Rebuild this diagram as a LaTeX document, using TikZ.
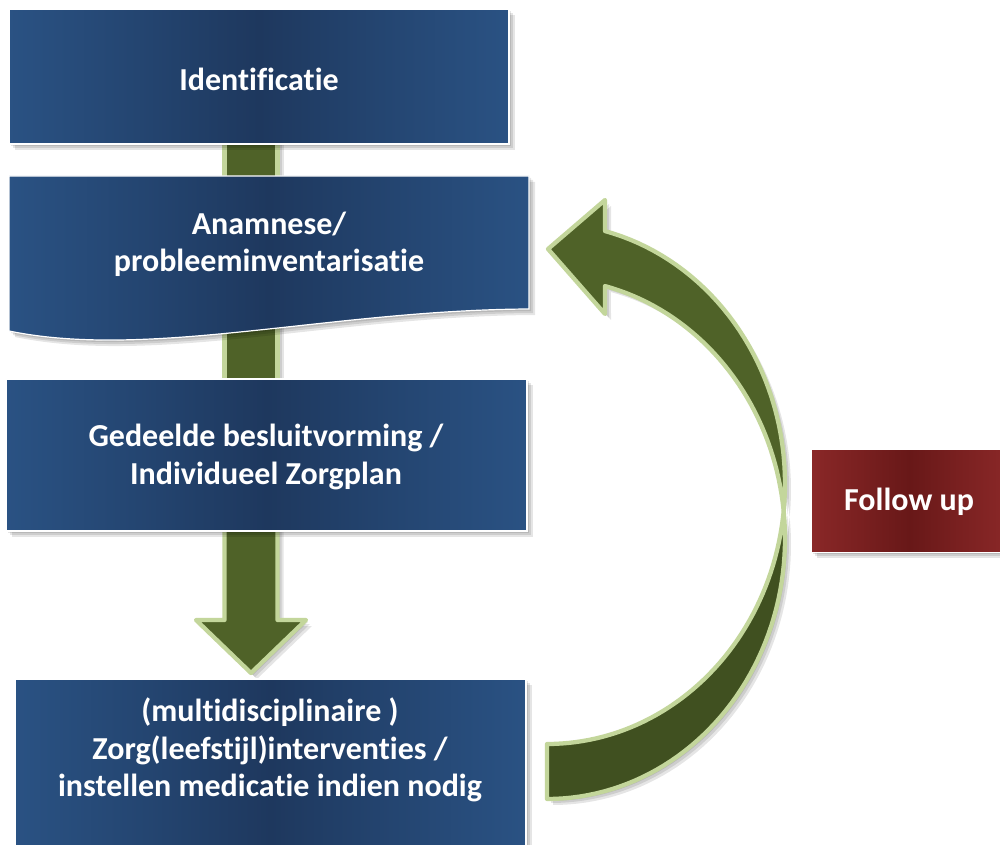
\documentclass[tikz,border=0pt]{standalone}
\usepackage{fontspec}
\setmainfont{Carlito}[Ligatures={NoCommon}]
\definecolor{bluelight}{RGB}{47,93,147}
\definecolor{bluedark}{RGB}{30,56,94}
\definecolor{redlight}{RGB}{152,46,46}
\definecolor{reddark}{RGB}{104,24,24}
\definecolor{greenfront}{RGB}{79,98,40}
\definecolor{greenback}{RGB}{64,80,32}
\definecolor{greenedge}{RGB}{195,214,155}
\pgfdeclarehorizontalshading{blueshade}{100bp}{color(0bp)=(bluelight); color(22bp)=(bluelight!78!bluedark); color(38bp)=(bluelight!35!bluedark); color(50bp)=(bluedark); color(62bp)=(bluelight!35!bluedark); color(78bp)=(bluelight!78!bluedark); color(100bp)=(bluelight)}
\pgfdeclarehorizontalshading{redshade}{100bp}{color(0bp)=(redlight); color(22bp)=(redlight!78!reddark); color(38bp)=(redlight!35!reddark); color(50bp)=(reddark); color(62bp)=(redlight!35!reddark); color(78bp)=(redlight!78!reddark); color(100bp)=(redlight)}
\begin{document}
\begin{tikzpicture}[x=0.75pt,y=-0.75pt,
  bluefill/.style={shading=blueshade},
  redfill/.style={shading=redshade},
  boxedge/.style={draw=white,line width=0.9pt},
  greenshape/.style={fill=greenfront,draw=greenedge,line width=3.2pt,line join=round},
  greenbackshape/.style={fill=greenback,draw=greenedge,line width=3.2pt,line join=round},
  shadowlayer/.style={fill=black,opacity=0.1},
  boxtext/.style={text=white,font=\bfseries\fontsize{24}{28}\selectfont,align=center,inner sep=0pt}]
\path[use as bounding box] (0,0) rectangle (1000,845);
\clip (0,0) rectangle (1000,845);
\fill[white] (0,0) rectangle (1000,845);

% geometry of shapes
\def\barone{(224.5,130) rectangle (277.5,190)}
\def\bartwo{(224.5,300) rectangle (277.5,392)}
\def\downarrow{(224.5,520) -- (224.5,620) -- (196,620) -- (251,673) -- (306,620) -- (277.5,620) -- (277.5,520) -- cycle}
\def\frontpath{(605,231) -- plot[domain=75.9:-6.06,samples=40,variable=\t] ({547+238*cos(\t)},{483.6-260.4*sin(\t)}) -- plot[domain=6.06:75.9,samples=40,variable=\t] ({547+238*cos(\t)},{538.6-260.4*sin(\t)}) -- (605,314) -- (548,249) -- (605,200) -- cycle}
\def\backpath{(783.7,511.1) -- plot[domain=6.06:-90,samples=50,variable=\t] ({547+238*cos(\t)},{538.6-260.4*sin(\t)}) -- (547,744) -- plot[domain=-90:-6.06,samples=50,variable=\t] ({547+238*cos(\t)},{483.6-260.4*sin(\t)}) -- cycle}
\def\boxone{(9,9) rectangle (509,144)}
\def\boxtwo{(9,176) -- (529,176) -- (529,309) .. controls (330,310) and (150,360) .. (9,331) -- cycle}
\def\boxthree{(6,379) rectangle (527,531)}
\def\boxfour{(15,679) rectangle (526,870)}
\def\boxfive{(811,449) rectangle (1008,552)}

% green connectors (behind boxes)
\foreach \d in {2,4,6} {
  \path[shadowlayer,shift={(\d,\d)}] \barone;
  \path[shadowlayer,shift={(\d,\d)}] \bartwo;
  \path[shadowlayer,shift={(\d,\d)}] \downarrow;
}
\path[greenshape] \barone;
\path[greenshape] \bartwo;
\path[greenshape] \downarrow;

% box shadows
\foreach \d in {2,4,6} {
  \path[shadowlayer,shift={(\d,\d)}] \boxone;
  \path[shadowlayer,shift={(\d,\d)}] \boxtwo;
  \path[shadowlayer,shift={(\d,\d)}] \boxthree;
  \path[shadowlayer,shift={(\d,\d)}] \boxfour;
  \path[shadowlayer,shift={(\d,\d)}] \boxfive;
}
% boxes
\path[bluefill,boxedge] \boxone;
\path[bluefill,boxedge] \boxtwo;
\path[bluefill,boxedge] \boxthree;
\path[bluefill,boxedge] \boxfour;
\path[redfill,draw=white,line width=0.6pt] \boxfive;

% curved arrow (follow up loop)
\foreach \d in {2,4,6} {
  \path[shadowlayer,shift={(\d,\d)}] \backpath;
  \path[shadowlayer,shift={(\d,\d)}] \frontpath;
}
\path[greenbackshape] \backpath;
\path[greenshape] \frontpath;

% texts
\node[boxtext] (identificatie) at (259,79) {Identificatie};
\node[boxtext] (anamnese) at (269,244) {Anamnese/\\probleeminventarisatie};
\node[boxtext] (gedeelde) at (266,457) {Gedeelde besluitvorming /\\Individueel Zorgplan};
\node[boxtext] (zorg) at (270,750) {(multidisciplinaire )\\Zorg(leefstijl)interventies /\\instellen medicatie indien nodig};
\node[boxtext] (followup) at (909,502) {Follow up};
\end{tikzpicture}
\end{document}
